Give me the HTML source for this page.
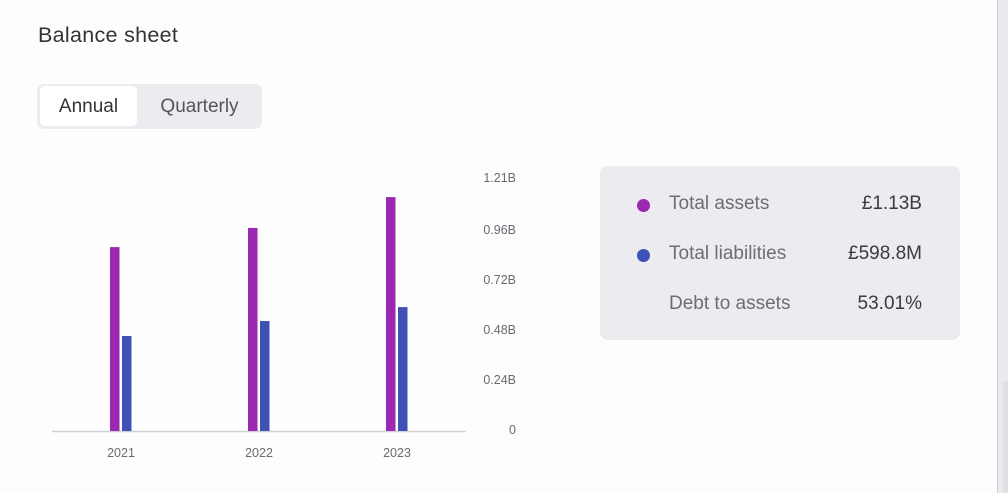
<!DOCTYPE html>
<html><head><meta charset="utf-8"><style>
body{margin:0;width:1008px;height:493px;background:#fdfdfd;font-family:"Liberation Sans",sans-serif;position:relative;overflow:hidden}
.abs{position:absolute}
#title{left:38px;top:23px;font-size:21.5px;color:#333;letter-spacing:0.3px}
#toggle{left:37px;top:84px;width:225px;height:45px;background:#ebebf0;border-radius:7px}
.tb{position:absolute;top:2px;height:40px;line-height:42px;font-size:19px;text-align:center}
#panel{left:600px;top:166px;width:360px;height:174px;background:#ebebf0;border-radius:8px}
.row{position:absolute;left:0;width:360px;height:24px;font-size:19px}
.dot{position:absolute;left:37px;top:6px;width:13px;height:13px;border-radius:50%}
.lab{position:absolute;left:69px;top:0;color:#6d6d75}
.val{position:absolute;right:38px;top:0;color:#3a3a40}
#scrollline{left:997px;top:0;width:1px;height:493px;background:#cfcfd4}
#scrollbg{left:998px;top:0;width:10px;height:493px;background:#ebebef}
#thumb{left:1003px;top:381px;width:5px;height:112px;background:#dfdfe4}
</style></head><body>
<div class="abs" id="title">Balance sheet</div>
<div class="abs" id="toggle">
<div class="tb" style="left:3px;width:97px;background:#fff;border-radius:5px;color:#333">Annual</div>
<div class="tb" style="left:100px;width:125px;color:#555">Quarterly</div>
</div>
<svg class="abs" id="chart" style="left:0;top:0" width="560" height="493"></svg>
<div class="abs" id="panel">
<div class="row" style="top:27px"><div class="dot" style="background:#9c27b0"></div><span class="lab">Total assets</span><span class="val">£1.13B</span></div>
<div class="row" style="top:77px"><div class="dot" style="background:#3f51b5"></div><span class="lab">Total liabilities</span><span class="val">£598.8M</span></div>
<div class="row" style="top:127px"><span class="lab">Debt to assets</span><span class="val">53.01%</span></div>
</div>
<div class="abs" id="scrollbg"></div>
<div class="abs" id="scrollline"></div>
<div class="abs" id="thumb"></div>
<script>
const categories=["2021","2022","2023"];
const assets=[0.883,0.975,1.123];
const liabilities=[0.456,0.528,0.595];
const tickValues=[0,0.24,0.48,0.72,0.96,1.21];
const tickLabels=["0","0.24B","0.48B","0.72B","0.96B","1.21B"];
const NS="http://www.w3.org/2000/svg";
const svg=document.getElementById('chart');
const x0=52,x1=466,yBase=431,yTop=179,yMax=1.21;
const y=v=>yBase-(v/yMax)*(yBase-yTop);
const band=(x1-x0)/categories.length;
const xc=i=>x0+band*(i+0.5);
function mk(t,a){const e=document.createElementNS(NS,t);for(const k in a)e.setAttribute(k,a[k]);svg.appendChild(e);return e;}
tickValues.forEach((v,i)=>{
 const t=mk('text',{x:516,y:y(v)+3,'text-anchor':'end','font-size':12.5,fill:'#6a6a72','font-family':'Liberation Sans, sans-serif'});
 t.textContent=tickLabels[i];
 
 
});
const ax=mk('line',{x1:x0,x2:x1,y1:yBase+0.5,y2:yBase+0.5,stroke:'#cfcfd6','stroke-width':1.5});


const bw=9.5;
categories.forEach((c,i)=>{
 const cx=xc(i);
 const a=mk('rect',{x:cx-11,y:y(assets[i]),width:bw,height:yBase-y(assets[i]),fill:'#9c27b0'});
 
 
 const l=mk('rect',{x:cx+1,y:y(liabilities[i]),width:bw,height:yBase-y(liabilities[i]),fill:'#3f51b5'});
 
 
 const t=mk('text',{x:cx,y:457,'text-anchor':'middle','font-size':12.5,fill:'#6a6a72','font-family':'Liberation Sans, sans-serif'});
 t.textContent=c;
 
 
});
</script>
</body></html>
